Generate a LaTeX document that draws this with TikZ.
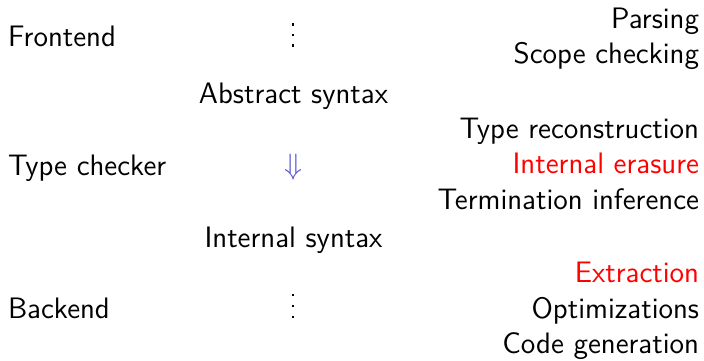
\documentclass[tikz,border=0pt]{standalone}
\usepackage{fontspec}
\begin{document}
\begin{tikzpicture}[x=1bp,y=-1bp,
  every node/.style={inner sep=0pt,outer sep=0pt},
  txt/.style={scale=2.7,font=\fontsize{11}{13}\sffamily},
  lefttext/.style={txt,anchor=base west},
  midtext/.style={txt,anchor=base},
  righttext/.style={txt,anchor=base east},
  hl/.style={text=red},
  dotmark/.style={rectangle,fill=black,minimum size=2.8bp},
  arrowmark/.style={txt,text=archblue}]
\definecolor{archblue}{rgb}{0.33,0.33,0.82}
\useasboundingbox (0,0) rectangle (704,360);
% left column
\node[lefttext] (fe) at (8,46) {Frontend};
\node[lefttext] (tc) at (8,175) {Type checker};
\node[lefttext] (be) at (8,318) {Backend};
% middle column
\node[dotmark] (d1) at (293,24.7) {};
\node[dotmark] (d2) at (293,35) {};
\node[dotmark] (d3) at (293,45.3) {};
\node[midtext] (as) at (293.5,103) {Abstract syntax};
\node[arrowmark] (arr) at (293,167.5) {$\Downarrow$};
\node[midtext] (is) at (293.5,247) {Internal syntax};
\node[dotmark] (d4) at (293,295) {};
\node[dotmark] (d5) at (293,306) {};
\node[dotmark] (d6) at (293,317) {};
% right column
\node[righttext] (p1) at (699,28) {Parsing};
\node[righttext] (p2) at (699,63) {Scope checking};
\node[righttext] (p3) at (699,138) {Type reconstruction};
\node[righttext,hl] (p4) at (699,173) {Internal erasure};
\node[righttext] (p5) at (699,209) {Termination inference};
\node[righttext,hl] (p6) at (699,282) {Extraction};
\node[righttext] (p7) at (699,318) {Optimizations};
\node[righttext] (p8) at (699,353) {Code generation};
\end{tikzpicture}
\end{document}
